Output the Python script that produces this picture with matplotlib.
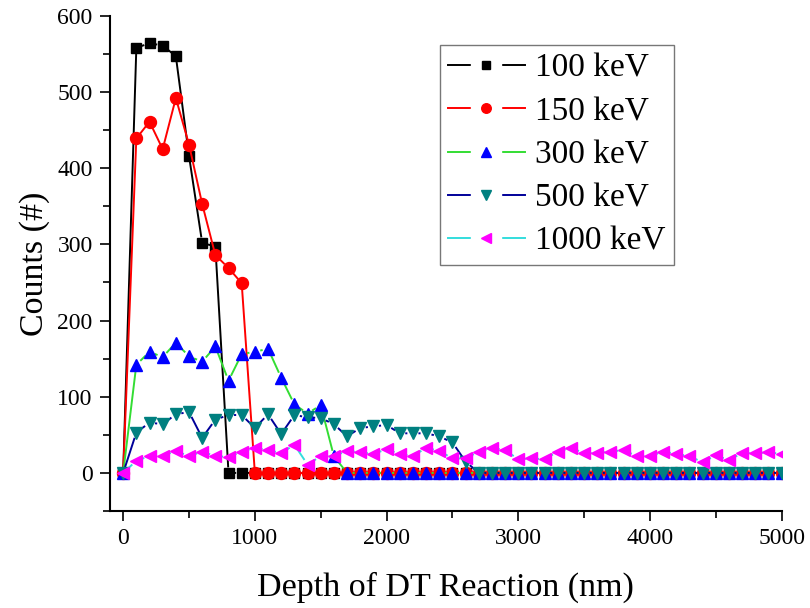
import numpy as np
import matplotlib
matplotlib.use("Agg")
import matplotlib.pyplot as plt
from matplotlib.ticker import MultipleLocator
from matplotlib.legend_handler import HandlerTuple
from matplotlib.lines import Line2D

plt.rcParams['font.family'] = ['Liberation Serif', 'DejaVu Serif']

# depth of DT reaction (nm), one point every 100 nm
depth = np.arange(0, 5001, 100)

# counts
c100 = [0, 558, 564, 561, 547, 416, 302, 297] + [0] * 43
c150 = [0, 439, 461, 425, 492, 431, 353, 286, 269, 249] + [0] * 41
c300 = [0, 142, 159, 152, 171, 153, 146, 166, 121, 156, 159, 163, 125,
        90, 78, 89, 22] + [0] * 34
c500 = [0, 53, 66, 64, 77, 80, 46, 70, 76, 76, 59, 77, 51, 76, 73, 72, 64,
        48, 59, 61, 63, 52, 52, 52, 48, 40, 15] + [0] * 24
c1000 = [0, 16, 22, 22, 29, 22, 28, 22, 21, 28, 33, 30, 26, 37, 11, 22, 22,
         29, 27, 25, 31, 25, 22, 33, 29, 19, 19, 28, 33, 30, 18, 19, 18, 28,
         33, 26, 26, 28, 30, 22, 22, 28, 25, 22, 14, 23, 17, 26, 26, 27, 25]

labels = ['100 keV', '150 keV', '300 keV', '500 keV', '1000 keV']
series = [c100, c150, c300, c500, c1000]
line_cols = ['black', '#ff0000', '#33dd33', '#000099', '#33dddd']
mark_cols = ['black', '#ff0000', '#0000ff', '#008080', '#ff00ff']
markers = ['s', 'o', '^', 'v', '<']
msizes = [7.5, 8.6, 9, 9, 9]

fig = plt.figure(figsize=(8.1, 6.08), dpi=100)
ax = fig.add_axes([0.1358, 0.1595, 0.965 - 0.1358, 0.974 - 0.1595])
ax.set_xlim(-100, 5000)
ax.set_ylim(-50, 600)
fig.canvas.draw()

# Origin style: line segments stop short of the markers
def gapped(x, y, gap_px):
    pts = ax.transData.transform(np.column_stack([x, y]))
    segs_x, segs_y = [], []
    for i in range(len(pts) - 1):
        p0, p1 = pts[i], pts[i + 1]
        d = p1 - p0
        L = np.hypot(d[0], d[1])
        if L <= 2 * gap_px:
            continue
        u = d / L
        a = ax.transData.inverted().transform(p0 + u * gap_px)
        b = ax.transData.inverted().transform(p1 - u * gap_px)
        segs_x += [a[0], b[0], np.nan]
        segs_y += [a[1], b[1], np.nan]
    return segs_x, segs_y

handles = []
for y, lab, lc, mc, mk, ms in zip(series, labels, line_cols, mark_cols, markers, msizes):
    gx, gy = gapped(depth, y, 6.5)
    ax.plot(gx, gy, color=lc, lw=1.4)
    ax.plot(depth, y, linestyle='none', marker=mk, ms=ms, color=mc,
            markeredgecolor=mc)
    h_line = Line2D([], [], color=lc, lw=1.4)
    h_gap = Line2D([], [], linestyle='none', marker='s', ms=21,
                   markerfacecolor='white', markeredgecolor='white')
    h_mark = Line2D([], [], linestyle='none', marker=mk, ms=ms * 0.8,
                    color=mc, markeredgecolor=mc)
    handles.append((h_line, h_gap, h_mark))

for s in ['top', 'right']:
    ax.spines[s].set_visible(False)
for s in ['left', 'bottom']:
    ax.spines[s].set_linewidth(1.5)

ax.xaxis.set_major_locator(MultipleLocator(1000))
ax.xaxis.set_minor_locator(MultipleLocator(500))
ax.yaxis.set_major_locator(MultipleLocator(100))
ax.yaxis.set_minor_locator(MultipleLocator(50))
ax.tick_params(which='major', direction='out', length=7.5, width=1.2,
               labelsize=17, pad=5, labelfontfamily='Liberation Serif')
ax.tick_params(which='minor', direction='out', length=5, width=1.2)

ax.set_xlabel('Depth of DT Reaction (nm)', fontsize=24.5, labelpad=16)
ax.set_ylabel('Counts (#)', fontsize=24.5, labelpad=5)

leg = ax.legend(handles, labels,
                handler_map={tuple: HandlerTuple(ndivide=1, pad=0)},
                loc='upper left', bbox_to_anchor=(0.491, 0.941), fontsize=24,
                frameon=True, fancybox=False, edgecolor='#555555',
                handlelength=2.3, handletextpad=0.3, labelspacing=0.38,
                borderpad=0.25, borderaxespad=0)
leg.get_frame().set_linewidth(1.0)

fig.savefig('out.png', dpi=100)
